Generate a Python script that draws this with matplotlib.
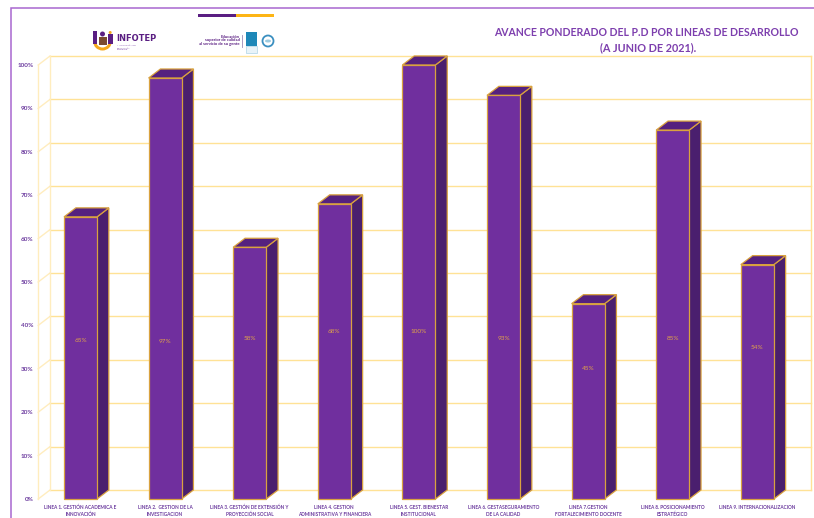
import matplotlib
matplotlib.use("Agg")
import matplotlib.pyplot as plt
from matplotlib.patches import Polygon, Rectangle, Circle, Wedge, Ellipse

plt.rcParams['font.family'] = ['Lato', 'DejaVu Sans']

# data
categories = [
    "LINEA 1. GESTIÓN ACADEMICA E\nINNOVACIÓN",
    "LINEA 2.  GESTION DE LA\nINVESTIGACION",
    "LINEA 3. GESTIÓN DE EXTENSIÓN Y\nPROYECCIÓN SOCIAL",
    "LINEA 4. GESTION\nADMINISTRATIVA Y FINANCIERA",
    "LINEA 5. GEST. BIENESTAR\nINSTITUCIONAL",
    "LINEA 6. GESTASEGURAMIENTO\nDE LA CALIDAD",
    "LINEA 7.GESTION\nFORTALECIMIENTO DOCENTE",
    "LINEA 8. POSICIONAMIENTO\nESTRATÉGICO",
    "LINEA 9. INTERNACIONALIZACION",
]
values = [65, 97, 58, 68, 100, 93, 45, 85, 54]
ytick_values = [0, 10, 20, 30, 40, 50, 60, 70, 80, 90, 100]

# where the value labels sit inside each bar (percent height)
label_heights = [36.5, 36.3, 37, 38.6, 38.6, 37, 30, 37, 34.9]

PURPLE = "#702F9E"
SIDE = "#4A1F6E"
TOP = "#55217F"
EDGE = "#D9A23F"
GRID = "#FFE296"
WALL = "#FFEDBE"
TEXT = "#6B3A9E"

W, H = 814, 518
fig = plt.figure(figsize=(W / 100, H / 100), dpi=100)

# front plane of the fake 3d chart, in figure fractions
ax = fig.add_axes([38.2 / W, 1 - 499 / H, 761.4 / W, 434 / H])
ax.set_xlim(-0.5, 8.5)
ax.set_ylim(0, 100)
ax.patch.set_visible(False)
for s in ax.spines.values():
    s.set_visible(False)

# depth offset in data units
dx = 0.14
dy = 2.08
bar_w = 0.39

# walls and gridlines
for t in ytick_values:
    ax.plot([-0.5, -0.5 + dx], [t, t + dy], color=WALL, lw=1, clip_on=False, zorder=1)
    ax.plot([-0.5 + dx, 8.5 + dx], [t + dy, t + dy], color=GRID, lw=1, clip_on=False, zorder=1)
ax.plot([-0.5, -0.5], [0, 100], color=WALL, lw=1, clip_on=False, zorder=1)
ax.plot([-0.5 + dx, -0.5 + dx], [dy, 100 + dy], color=WALL, lw=1, clip_on=False, zorder=1)
ax.plot([8.5 + dx, 8.5 + dx], [dy, 100 + dy], color=GRID, lw=1, clip_on=False, zorder=1)

# bars
for i, v in enumerate(values):
    l = i - bar_w / 2
    r = i + bar_w / 2
    ax.add_patch(Polygon([(r, 0), (r + dx, dy), (r + dx, v + dy), (r, v)],
                         facecolor=SIDE, edgecolor=EDGE, lw=0.9, clip_on=False, zorder=3))
    ax.add_patch(Polygon([(l, v), (l + dx, v + dy), (r + dx, v + dy), (r, v)],
                         facecolor=TOP, edgecolor=EDGE, lw=0.9, clip_on=False, zorder=3))
    ax.add_patch(Rectangle((l, 0), bar_w, v, facecolor=PURPLE, edgecolor=EDGE, lw=0.9,
                           clip_on=False, zorder=4))
    ax.text(i, label_heights[i], f"{v}%", color="#E0A24A", fontsize=4.6,
            ha='center', va='center', zorder=5)

ax.set_xticks(range(len(categories)))
ax.set_xticklabels(categories, fontsize=3.4, fontweight='bold', color=TEXT, linespacing=1.55)
ax.set_yticks(ytick_values)
ax.set_yticklabels([f"{t}%" for t in ytick_values], fontsize=4.6, fontweight='bold', color=TEXT)
ax.tick_params(axis='both', length=0)
ax.tick_params(axis='x', pad=4)
ax.tick_params(axis='y', pad=3.5)

# overlay in pixels for the slide furniture
over = fig.add_axes([0, 0, 1, 1])
over.set_xlim(0, W)
over.set_ylim(H, 0)
over.axis('off')
over.patch.set_visible(False)

over.plot([10.5, 10.5, W], [H, 8, 8], color="#A867CF", lw=1.1, solid_joinstyle='miter')
over.add_patch(Rectangle((198, 14), 38, 3, facecolor="#5A1E82", edgecolor='none'))
over.add_patch(Rectangle((236, 14), 38, 3, facecolor="#FDB515", edgecolor='none'))

over.text(646.5, 32, "AVANCE PONDERADO DEL P.D POR LINEAS DE DESARROLLO", color="#7D3FAE",
          fontsize=7.6, fontweight='bold', ha='center', va='center')
over.text(648, 48, "(A JUNIO DE 2021).", color="#7D3FAE", fontsize=7.8, fontweight='bold',
          ha='center', va='center')

# infotep logo, rough
over.add_patch(Wedge((102.5, 41), 9.5, 0, 180, facecolor="#F5A81C", edgecolor='none'))
over.add_patch(Wedge((102.5, 41), 6.5, 0, 180, facecolor="white", edgecolor='none'))
over.add_patch(Rectangle((92.5, 31), 4.5, 13, facecolor="#5A1E82", edgecolor='none'))
over.add_patch(Rectangle((108, 34), 4.5, 10, facecolor="#5A1E82", edgecolor='none'))
over.add_patch(Circle((110.2, 32.5), 1.5, facecolor="#F5A81C", edgecolor='none'))
over.add_patch(Rectangle((98.5, 37), 8, 8, facecolor="#7A4A2E", edgecolor='none'))
over.add_patch(Circle((102.5, 34), 2.5, facecolor="#5A1E82", edgecolor='none'))
over.text(116.5, 38.5, "INFOTEP", color="#5A1E82", fontsize=6, fontweight='bold', va='center',
          family='DejaVu Sans')
over.text(117, 47, "INSTITUCIÓN DE\nEDUCACIÓN\nSUPERIOR", color="#8A5BB0", fontsize=1.7, va='center',
          linespacing=1.05)

# accreditation logos, rough
over.text(239.5, 40.5, "Educación\nsuperior de calidad\nal servicio de su gente", color="#5A1E82",
          fontsize=3, fontweight='bold', ha='right', va='center', linespacing=1.0)
over.plot([241.5, 241.5], [35, 47], color="#9B8AB5", lw=0.6)
over.add_patch(Rectangle((246, 32), 11, 14, facecolor="#1E88B8", edgecolor='none'))
over.add_patch(Rectangle((246, 46), 11, 7, facecolor="#E8F3F8", edgecolor="#9CCBE0", lw=0.4))
over.add_patch(Circle((268, 41), 5.5, facecolor="white", edgecolor="#3B8FC0", lw=1.3))
over.add_patch(Ellipse((268, 41), 6, 3, facecolor="#9CCBE0", edgecolor='none'))

fig.savefig("out.png", dpi=100)
